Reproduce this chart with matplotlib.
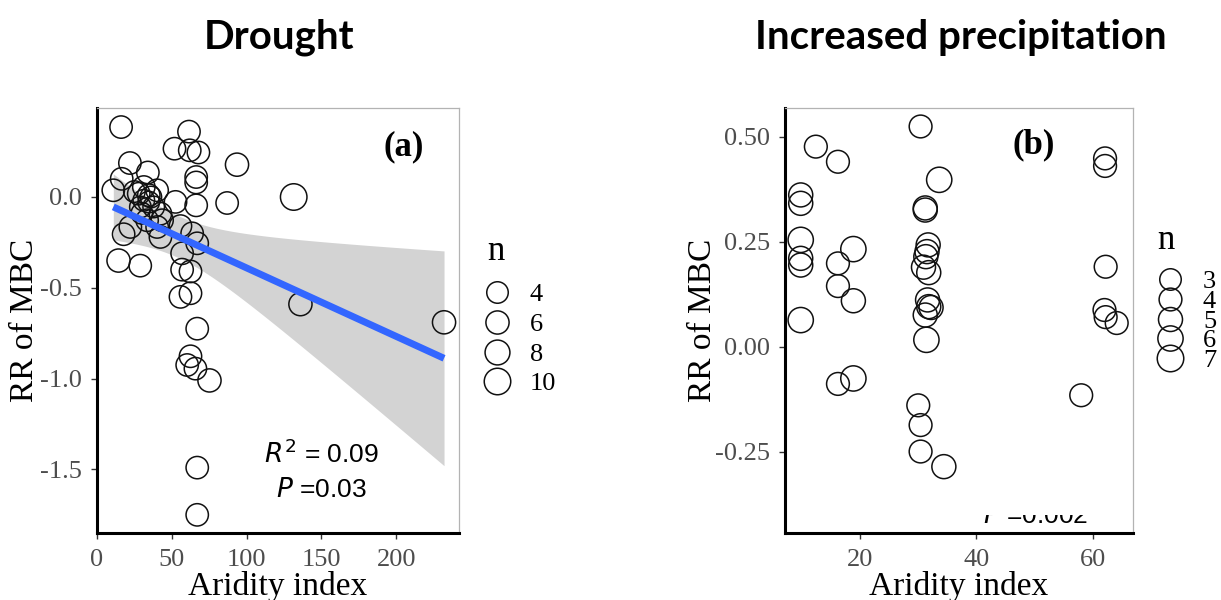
import numpy as np
import matplotlib
matplotlib.use("Agg")
import matplotlib.pyplot as plt
from matplotlib.lines import Line2D
from matplotlib.patches import Rectangle
from matplotlib.ticker import FormatStrFormatter

plt.rcParams['axes.unicode_minus'] = False

# panel (a): drought
a_x = [16.1, 10.9, 16.5, 22.0, 34.0, 51.8, 61.5, 62.0, 67.8, 66.3, 66.3, 66.3,
       52.5, 93.6, 87.0, 131.5, 136.0, 232.0, 17.8, 22.3, 14.4, 28.9, 55.8, 56.9,
       56.9, 62.5, 55.8, 62.5, 63.6, 67.0, 67.0, 62.5, 60.3, 65.8, 75.2, 67.0,
       67.0, 27.9, 31.3, 34.6, 40.2, 37.9, 29.0, 42.4, 33.5, 40.2, 42.4, 43.5,
       31.3, 34.6, 36.0, 30.0, 25.0]
a_y = [0.385, 0.037, 0.10, 0.187, 0.135, 0.266, 0.36, 0.257, 0.245, 0.11, 0.08, -0.046,
       -0.027, 0.178, -0.033, 0.0, -0.59, -0.69, -0.205, -0.165, -0.35, -0.378, -0.16, -0.31,
       -0.40, -0.41, -0.55, -0.53, -0.20, -0.255, -0.725, -0.877, -0.925, -0.945, -1.01, -1.49,
       -1.75, 0.018, 0.055, 0.01, 0.037, -0.055, -0.055, -0.092, -0.128, -0.165, -0.22, -0.128,
       -0.018, -0.028, 0.0, -0.09, 0.03]
a_n = [5, 5, 5, 5, 5, 5, 5, 5, 5, 5, 5, 5,
       5, 6, 5, 10, 6, 6, 5, 5, 6, 5, 5, 5,
       5, 5, 5, 5, 5, 5, 5, 5, 5, 5, 6, 5,
       5, 5, 5, 5, 5, 4, 4, 5, 5, 5, 5, 5,
       4, 4, 4, 4, 4]
a_legend = [4, 6, 8, 10]

# panel (b): increased precipitation
b_x = [9.8, 9.8, 9.8, 9.8, 9.8, 9.8, 12.4, 16.2, 16.2, 16.2, 16.2, 18.85, 18.85,
       18.85, 30.4, 33.6, 31.2, 31.2, 31.7, 31.5, 31.3, 30.9, 31.8, 31.6, 31.8,
       32.2, 31.2, 31.4, 30.0, 30.4, 30.4, 34.4, 62.1, 62.1, 62.2, 62.0, 62.2,
       64.1, 58.0]
b_y = [0.361, 0.341, 0.254, 0.210, 0.194, 0.063, 0.476, 0.44, 0.198, 0.144, -0.089, 0.232, 0.109,
       -0.076, 0.524, 0.397, 0.33, 0.325, 0.242, 0.226, 0.214, 0.189, 0.176, 0.111, 0.095,
       0.093, 0.075, 0.016, -0.14, -0.187, -0.25, -0.286, 0.448, 0.43, 0.19, 0.087, 0.07,
       0.056, -0.116]
b_n = [5, 5, 6, 5, 5, 6, 4, 4, 4, 4, 4, 6, 5,
       6, 4, 6, 5, 5, 5, 5, 5, 5, 5, 5, 5,
       5, 5, 6, 4, 4, 4, 5, 4, 4, 4, 4, 4,
       4, 4]
b_legend = [3, 4, 5, 6, 7]

def msize(n, lo, hi):
    # circle diameter in px, turned into points
    d = 21.5 + (np.asarray(n, float) - lo) / (hi - lo) * 5.0
    return d * 0.72

fig = plt.figure(figsize=(12.21, 6), dpi=100)
ax1 = fig.add_axes([97/1221, 67/600, 362/1221, 425/600])
ax2 = fig.add_axes([785/1221, 67/600, 348/1221, 425/600])

grey = '#4d4d4d'
serif = 'Liberation Serif'
for ax in (ax1, ax2):
    ax.spines['left'].set_linewidth(2.2)
    ax.spines['bottom'].set_linewidth(2.2)
    for s in ('top', 'right'):
        ax.spines[s].set_color('#b3b3b3')
        ax.spines[s].set_linewidth(0.9)
    ax.tick_params(length=4, width=1, color='#333333', labelsize=19,
                   labelcolor=grey, labelfontfamily=serif)
    ax.tick_params(axis='x', pad=7.5)
    ax.tick_params(axis='y', pad=7)
    ax.set_xlabel('Aridity index', fontsize=24, family=serif, labelpad=0)
ax1.set_ylabel('RR of MBC', fontsize=24, family=serif, labelpad=0)
ax2.set_ylabel('RR of MBC', fontsize=24, family=serif, labelpad=-2.5)

# --- (a)
x = np.array(a_x)
y = np.array(a_y)
slope, icpt = np.polyfit(x, y, 1)
xs = np.linspace(x.min(), x.max(), 200)
fit = icpt + slope * xs
res = y - (icpt + slope * x)
s_err = np.sqrt(np.sum(res**2) / (len(x) - 2))
se = s_err * np.sqrt(1/len(x) + (xs - x.mean())**2 / np.sum((x - x.mean())**2))
ax1.fill_between(xs, fit - 2.006*se, fit + 2.006*se, color='#d3d3d3', lw=0, zorder=1)
ax1.scatter(a_x, a_y, s=msize(a_n, 4, 10)**2, facecolors='none', edgecolors='#111111',
            linewidths=1.1, zorder=2)
ax1.plot(xs, fit, color='#3366ff', lw=5, zorder=3, solid_capstyle='butt')
ax1.set_xlim(0, 242)
ax1.set_ylim(-1.85, 0.49)
ax1.set_xticks([0, 50, 100, 150, 200])
ax1.set_yticks([0.0, -0.5, -1.0, -1.5])
ax1.yaxis.set_major_formatter(FormatStrFormatter('%.1f'))
ax1.text(205, 0.274, '(a)', fontsize=25, fontweight='bold', family=serif,
         ha='center', va='center')
ax1.text(150, -1.466, '$R^2$ = 0.09', fontsize=19, family='Liberation Sans', ha='center')
ax1.text(150, -1.654, '$P$ =0.03', fontsize=19, family='Liberation Sans', ha='center')

h1 = [Line2D([], [], ls='', marker='o', ms=float(msize(n, 4, 10)), mfc='none',
             mec='#111111', mew=1.1) for n in a_legend]
ax1.legend(h1, [str(n) for n in a_legend], loc='upper left',
           bbox_to_anchor=(483/1221, 1 - 283/600), bbox_transform=fig.transFigure,
           frameon=False, prop={'family': serif, 'size': 19}, handlelength=1.07,
           labelspacing=0.235, handletextpad=0.71, borderpad=0, borderaxespad=0)
fig.text(496/1221, 1 - 252/600, 'n', fontsize=25, family=serif, ha='center', va='center')

# --- (b)
ax2.scatter(b_x, b_y, s=msize(b_n, 3, 7)**2, facecolors='none', edgecolors='#111111',
            linewidths=1.1, zorder=2)
ax2.set_xlim(7.1, 66.9)
ax2.set_ylim(-0.444, 0.568)
ax2.set_xticks([20, 40, 60])
ax2.set_yticks([0.50, 0.25, 0.00, -0.25])
ax2.yaxis.set_major_formatter(FormatStrFormatter('%.2f'))
ax2.text(49.8, 0.48, '(b)', fontsize=25, fontweight='bold', family=serif,
         ha='center', va='center')
t = ax2.text(50.1, -0.42, '$P$ =0.002', fontsize=19, family='Liberation Sans',
             ha='center', va='baseline', clip_on=True)
t.set_clip_path(Rectangle((7.1, -0.444), 60, 0.0433, transform=ax2.transData))

h2 = [Line2D([], [], ls='', marker='o', ms=float(msize(n, 3, 7)), mfc='none',
             mec='#111111', mew=1.1) for n in b_legend]
ax2.legend(h2, [str(n) for n in b_legend], loc='upper left',
           bbox_to_anchor=(1156/1221, 1 - 270/600), bbox_transform=fig.transFigure,
           frameon=False, prop={'family': serif, 'size': 19}, handlelength=1.07,
           labelspacing=-0.144, handletextpad=0.71, borderpad=0, borderaxespad=0)
fig.text(1166/1221, 1 - 241/600, 'n', fontsize=25, family=serif, ha='center', va='center')

fig.text(279/1221, 1 - 37/600, 'Drought', ha='center', va='center', fontsize=29,
         fontweight='bold', family='Lato')
fig.text(961/1221, 1 - 37/600, 'Increased precipitation', ha='center', va='center',
         fontsize=29, fontweight='bold', family='Lato')

fig.savefig('out.png', dpi=100)
